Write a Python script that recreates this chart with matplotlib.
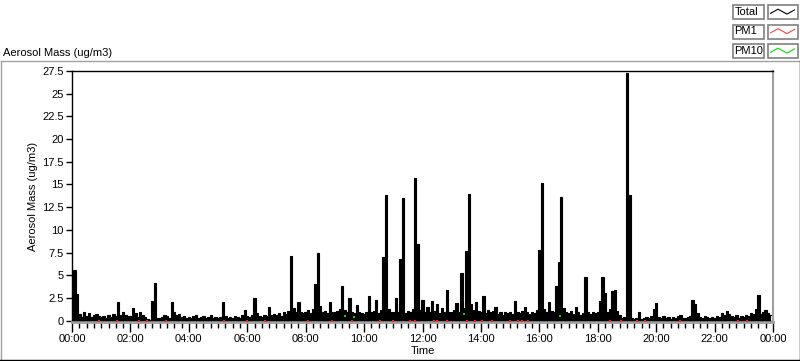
import numpy as np
import matplotlib
matplotlib.use("Agg")
import matplotlib.pyplot as plt
from matplotlib.ticker import MultipleLocator, FuncFormatter, FormatStrFormatter
from matplotlib.patches import Rectangle
from matplotlib.lines import Line2D

plt.rcParams['font.family'] = ['Liberation Sans', 'DejaVu Sans']
plt.rcParams['font.size'] = 8

# Total aerosol mass, one value every 5 minutes (12 per hour), 00:00 -> 24:00
total = [
    1.2, 5.6, 2.9, 0.7, 0.4, 0.9, 0.5, 0.8, 0.4, 0.6, 0.7, 0.5,   # 00h
    0.4, 0.5, 0.3, 0.6, 0.4, 0.7, 0.5, 2.0, 0.6, 0.9, 0.6, 0.5,   # 01h
    0.5, 1.4, 0.8, 0.4, 0.9, 0.6, 0.4, 0.2, 0.1, 2.2, 4.2, 0.3,   # 02h
    0.3, 0.4, 0.6, 0.5, 0.3, 2.0, 0.9, 0.6, 0.7, 0.4, 0.5, 0.3,   # 03h
    0.4, 0.3, 0.5, 0.6, 0.3, 0.4, 0.5, 0.3, 0.4, 0.6, 0.3, 0.4,   # 04h
    0.3, 0.4, 2.0, 0.5, 0.3, 0.4, 0.3, 0.5, 0.4, 0.3, 0.6, 1.2,   # 05h
    0.5, 0.4, 0.6, 2.5, 0.8, 0.5, 0.4, 0.6, 0.5, 1.5, 0.6, 0.7,   # 06h
    0.6, 0.8, 0.5, 0.9, 0.7, 1.1, 7.1, 1.4, 0.9, 2.0, 1.0, 0.8,   # 07h
    0.9, 1.2, 0.8, 1.3, 4.0, 7.5, 1.6, 0.9, 1.1, 0.8, 2.0, 1.0,   # 08h
    0.9, 1.1, 1.3, 3.8, 1.2, 0.9, 2.5, 1.0, 0.8, 1.7, 0.9, 0.8,   # 09h
    0.7, 1.0, 2.7, 0.9, 1.1, 2.3, 0.8, 1.2, 7.0, 13.8, 1.3, 0.9,  # 10h
    1.0, 2.5, 0.9, 6.8, 13.5, 0.8, 1.1, 0.9, 1.3, 15.7, 8.4, 1.2, # 11h
    2.3, 1.0, 1.5, 0.9, 2.2, 1.1, 1.8, 0.8, 1.4, 0.9, 3.4, 1.0,   # 12h
    0.9, 1.2, 1.9, 1.0, 5.2, 1.4, 7.7, 14.0, 1.8, 1.2, 2.0, 1.1,  # 13h
    1.0, 2.7, 0.8, 1.2, 0.9, 1.1, 1.5, 0.7, 0.9, 0.6, 1.0, 0.8,   # 14h
    0.9, 0.7, 2.2, 1.0, 0.8, 1.1, 1.5, 0.9, 0.7, 1.0, 0.8, 1.2,   # 15h
    7.8, 15.2, 1.3, 0.9, 2.0, 1.1, 1.0, 3.8, 6.5, 13.6, 1.4, 1.0, # 16h
    0.8, 1.1, 0.7, 1.5, 0.9, 0.6, 0.8, 4.8, 1.0, 0.7, 0.9, 0.8,   # 17h
    0.9, 2.2, 4.8, 3.0, 1.0, 1.3, 3.3, 3.4, 1.1, 0.6, 0.3, 0.4,   # 18h
    27.3, 13.8, 0.3, 0.2, 0.3, 1.0, 0.2, 0.3, 0.4, 0.3, 0.5, 1.3, # 19h
    1.9, 0.4, 0.3, 0.5, 0.3, 0.4, 0.2, 0.4, 0.3, 0.5, 0.6, 0.3,   # 20h
    0.3, 0.4, 0.5, 2.3, 1.8, 0.8, 0.4, 0.3, 0.5, 0.4, 0.3, 0.4,   # 21h
    0.3, 0.5, 0.4, 0.8, 0.6, 1.1, 0.7, 0.5, 0.4, 0.6, 0.3, 0.5,   # 22h
    0.4, 0.6, 0.5, 0.8, 0.7, 1.3, 2.8, 0.7, 0.9, 1.2, 0.8, 0.6,   # 23h
]
samples_per_hour = 12

# PM1 / PM10 only show up as small specks near the baseline
pm1_hours = [0.93, 1.55, 2.29, 2.57, 3.23, 5.2, 6.0, 6.6, 8.07, 8.9, 9.58, 10.54,
             10.99, 11.57, 11.74, 12.4, 12.5, 12.84, 13.53, 13.8, 14.04, 14.39,
             15.0, 15.28, 15.42, 15.62, 18.43, 18.78, 19.36, 19.63, 20.8, 22.8, 23.1]
pm1_vals = [0.0] * len(pm1_hours)
pm10_hours = [9.33, 9.65, 13.43, 16.7]
pm10_vals = [0.5, 0.4, 0.7, 0.5]

x_ticks = list(range(0, 25, 2))
y_max = 27.5
y_step = 2.5

t = np.arange(len(total)) / samples_per_hour

fig = plt.figure(figsize=(8, 3.61), dpi=100)
ax = fig.add_axes([72 / 800, 1 - 322 / 361, 701 / 800, 251 / 361])

ax.axhline(0, color='black', lw=1, zorder=2)
ax.fill_between(t, 0, total, step='mid', color='black', lw=0, zorder=3)
ax.plot(t, total, color='black', lw=0.8, drawstyle='steps-mid', zorder=3)
ax.plot(pm1_hours, pm1_vals, ls='none', marker='s', ms=1.6, mew=0, color='#ff2020', zorder=4)
ax.plot(pm10_hours, pm10_vals, ls='none', marker='s', ms=2, mew=0, color='#00e000', zorder=4)

ax.set_xlim(0, 24)
ax.set_ylim(-0.15, y_max)
ax.set_xticks(x_ticks)
ax.xaxis.set_major_formatter(FuncFormatter(lambda v, p: "%02d:00" % (int(round(v)) % 24)))
ax.xaxis.set_minor_locator(MultipleLocator(0.25))
ax.set_yticks(np.arange(0, y_max + 0.01, y_step))
ax.yaxis.set_major_formatter(FormatStrFormatter('%g'))
ax.tick_params(axis='x', which='major', direction='out', length=7, width=1, pad=2, labelsize=8)
ax.tick_params(axis='x', which='minor', direction='out', length=4, width=1)
ax.tick_params(axis='y', which='major', direction='out', length=4, width=1, pad=2, labelsize=8)
ax.set_xlabel('Time', labelpad=1, fontsize=8)
ax.set_ylabel('Aerosol Mass (ug/m3)', labelpad=3, fontsize=8)

for side in ('left', 'top'):
    ax.spines[side].set_color('black')
    ax.spines[side].set_linewidth(1)
ax.spines['right'].set_color('#a0a0a0')
ax.spines['right'].set_linewidth(1.5)
ax.spines['bottom'].set_color('#a0a0a0')
ax.spines['bottom'].set_linewidth(2)

# panel frame (LabVIEW style: light top/left, dark bottom/right)
W, H = 800, 361
def fx(px):
    return px / W
def fy(py):
    return 1 - py / H
fig.add_artist(Line2D([fx(0.5), fx(799.5)], [fy(61), fy(61)], color='#a0a0a0', lw=1))
fig.add_artist(Line2D([fx(0.5), fx(0.5)], [fy(61), fy(360)], color='#a0a0a0', lw=1))
fig.add_artist(Line2D([fx(0), fx(800)], [fy(360), fy(360)], color='black', lw=1))
fig.add_artist(Line2D([fx(799.5), fx(799.5)], [fy(61), fy(360)], color='black', lw=1))

fig.text(fx(3), fy(53), 'Aerosol Mass (ug/m3)', ha='left', va='center', fontsize=8)

# legend boxes
legend_names = ['Total', 'PM1', 'PM10']
legend_colors = ['black', '#ff4040', '#00e000']
zig = np.array([[0.1, 0.4], [0.35, 0.7], [0.65, 0.35], [0.9, 0.65]])
for i, (name, col) in enumerate(zip(legend_names, legend_colors)):
    top = 5 + i * 19.5
    hgt = 14
    fig.add_artist(Rectangle((fx(732.5), fy(top + hgt)), 31 / W, hgt / H, fill=False,
                             ec='#808080', lw=1.2))
    fig.text(fx(734.5), fy(top + hgt / 2), name, ha='left', va='center', fontsize=8)
    fig.add_artist(Rectangle((fx(767.5), fy(top + hgt)), 30 / W, hgt / H, fill=False,
                             ec='#808080', lw=1.2))
    xs = fx(767.5) + zig[:, 0] * 30 / W
    ys = fy(top + hgt) + zig[:, 1] * hgt / H
    fig.add_artist(Line2D(xs, ys, color=col, lw=0.8))

fig.savefig('out.png', dpi=100)
